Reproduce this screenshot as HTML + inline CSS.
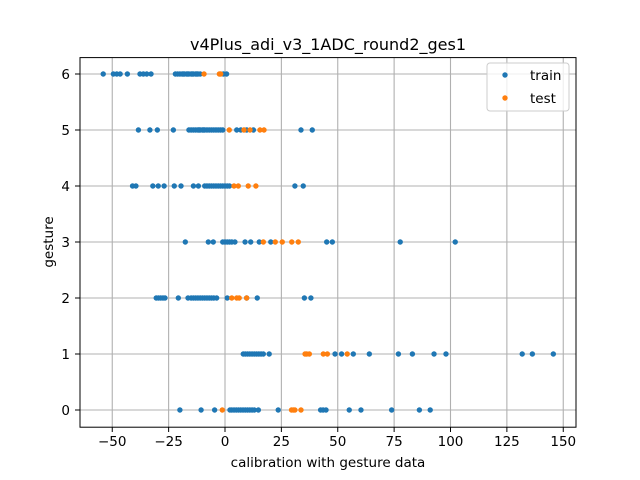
<!DOCTYPE html>
<html><head><meta charset="utf-8"><style>
body{margin:0;background:#fff;}
svg{display:block;font-family:"DejaVu Sans","Liberation Sans",sans-serif;}
</style></head><body>
<svg id="chart" width="640" height="480" viewBox="0 0 640 480">
<rect width="640" height="480" fill="#fff"/>
<text x="328" y="50" font-size="16" text-anchor="middle">v4Plus_adi_v3_1ADC_round2_ges1</text>
<g id="grid"></g>
<g id="ticks"></g>
<g id="pts"></g>
<rect x="80" y="57.6" width="496" height="369.6" fill="none" stroke="#000" stroke-width="1"/>
<text x="328" y="467" font-size="13.5" text-anchor="middle">calibration with gesture data</text>
<text transform="translate(53,242) rotate(-90)" font-size="13.5" text-anchor="middle">gesture</text>
<g>
<rect x="487" y="63" width="82" height="48" rx="3" fill="#fff" fill-opacity="0.8" stroke="#ccc"/>
<circle cx="505" cy="75" r="2.7" fill="#1f77b4"/>
<text x="530" y="80" font-size="13.5">train</text>
<circle cx="505" cy="98" r="2.7" fill="#ff7f0e"/>
<text x="530" y="103" font-size="13.5">test</text>
</g>
</svg>
<script>
const xTicks=[-50,-25,0,25,50,75,100,125,150];
const yTicks=[0,1,2,3,4,5,6];
const train6=[-54,-49.5,-48,-46.5,-43.3,-37.7,-36.2,-34.7,-32.8,-22,-21,-20,-19,-18.5,-18,-17,-16.5,-16,-15,-14.5,-14,-13,-12.5,-12,-11,-0.7,0.7];
const test6=[-9.3,-2.5,-1.9];
const train5=[-38.4,-33.3,-30,-22.9,-16,-15,-14,-13,-12,-11.5,-11,-10,-9.5,-9,-8,-7,-6,-5,-4,-3,-2,-1,5.2,7,9.6,12.6];
const test5=[1.9,8.4,11.1,15.5,17.3];
const train5b=[33.7,38.7];
const train4=[-41,-39.5,-32,-29.6,-27,-22.5,-19.5,-14,-11.8,-9,-8,-7,-6,-5,-4,-3,-2,-1,0,1,2,31,34.7];
const test4=[4,5.9,10.3,13.7];
const train3=[-17.6,-7.4,-5.2,-1,0,1,2,3,4.4,8.9,11.4,15.2,20.3,45.1,47.6,77.7,102.1];
const test3=[17,22.3,25.4,29.6,32.5];
const train2=[-30.5,-29.5,-28.5,-27.5,-26.6,-20.7,-16.4,-15,-14,-13,-12,-11,-10,-9,-8,-7,-6,-5,-3.7,1,9.6,14.3,35.2,38.1];
const test2=[3,5.2,6.3,9.6];
const train1=[8.1,9,10,11,12,13,14,15,16,17,19.6,48.8,51.7,56.9,64,76.9,83.1,92.7,98,131.8,136.3,145.6];
const test1=[35.5,36.2,37.4,43.6,45.4,54.2];
const train0=[-20,-10.6,-4.6,2.2,3,4,5,6,7,8,9,10,11,12,13,14.8,23.6,42.4,43.5,44.8,55.1,60.3,73.9,86.2,91];
const test0=[-1.2,29.5,30.3,31,33.7];
const NS="http://www.w3.org/2000/svg";
const X=v=>225+2.255*v, Y=g=>410-56*g;
function mk(tag,attrs,parent){const e=document.createElementNS(NS,tag);for(const k in attrs)e.setAttribute(k,attrs[k]);parent.appendChild(e);return e;}
const grid=document.getElementById('grid'),ticks=document.getElementById('ticks'),pts=document.getElementById('pts');
xTicks.forEach(t=>{
 const l=mk('line',{x1:X(t),x2:X(t),y1:57.6,y2:427.2,stroke:'#b0b0b0','stroke-width':1.1},grid);
 
 
 const k=mk('line',{x1:X(t),x2:X(t),y1:427.2,y2:432,stroke:'#000'},ticks);
 
 
 const tx=mk('text',{x:X(t),y:446,'font-size':13.5,'text-anchor':'middle'},ticks);
 tx.textContent=t<0?'\u2212'+(-t):String(t);
 
 
});
yTicks.forEach(t=>{
 const l=mk('line',{x1:80,x2:576,y1:Y(t),y2:Y(t),stroke:'#b0b0b0','stroke-width':1.1},grid);
 
 
 const k=mk('line',{x1:75,x2:80,y1:Y(t),y2:Y(t),stroke:'#000'},ticks);
 
 
 const tx=mk('text',{x:70,y:Y(t)+5,'font-size':13.5,'text-anchor':'end'},ticks);
 tx.textContent=String(t);
 
 
});
const trainSets=[[train0,0],[train1,1],[train2,2],[train3,3],[train4,4],[train5,5],[train5b,5],[train6,6]];
const testSets=[[test0,0],[test1,1],[test2,2],[test3,3],[test4,4],[test5,5],[test6,6]];
trainSets.forEach(([arr,g])=>arr.forEach(v=>{
 const c=mk('circle',{cx:X(v),cy:Y(g),r:2.7,fill:'#1f77b4'},pts);
 
 
}));
testSets.forEach(([arr,g])=>arr.forEach(v=>{
 const c=mk('circle',{cx:X(v),cy:Y(g),r:2.7,fill:'#ff7f0e'},pts);
 
 
}));
</script>
</body></html>
